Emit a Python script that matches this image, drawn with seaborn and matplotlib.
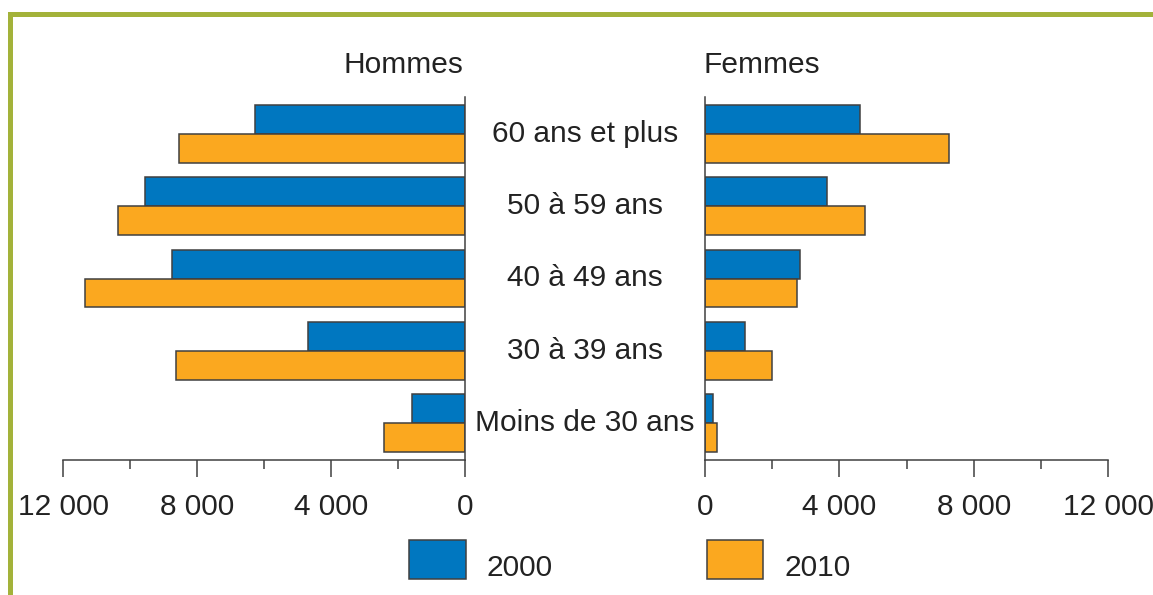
import matplotlib
matplotlib.use("Agg")
import matplotlib.pyplot as plt
import matplotlib.transforms as mtransforms
from matplotlib.patches import Rectangle
from matplotlib.ticker import FixedLocator, FuncFormatter
import seaborn as sns
import pandas as pd

# ---- data ----
categories = ["60 ans et plus", "50 à 59 ans", "40 à 49 ans", "30 à 39 ans", "Moins de 30 ans"]
years = ["2000", "2010"]
hommes_2000 = [6280, 9550, 8760, 4700, 1580]
hommes_2010 = [8550, 10350, 11350, 8630, 2420]
femmes_2000 = [4620, 3630, 2830, 1190, 230]
femmes_2010 = [7270, 4760, 2740, 2000, 370]
major_ticks = [0, 4000, 8000, 12000]
minor_ticks = [2000, 6000, 10000]

def long_form(v2000, v2010):
    rows = []
    for c, a, b in zip(categories, v2000, v2010):
        rows.append({"age": c, "annee": years[0], "valeur": a})
        rows.append({"age": c, "annee": years[1], "valeur": b})
    return pd.DataFrame(rows)

df_h = long_form(hommes_2000, hommes_2010)
df_f = long_form(femmes_2000, femmes_2010)

BLUE = "#0077C0"
ORANGE = "#FBA81F"
EDGE = "#404040"
TXT = "#222222"
GREEN = "#A3B23A"
FS = 21.5

sns.set_theme(style="white")
plt.rcParams["font.family"] = ["Liberation Sans", "DejaVu Sans"]

W, H = 1153, 595
fig = plt.figure(figsize=(W / 100, H / 100), dpi=100)
bottom = 1 - 460 / H
height = (460 - 97) / H
axL = fig.add_axes([63 / W, bottom, 402 / W, height])
axR = fig.add_axes([705 / W, bottom, 403 / W, height])

for ax, df in ((axL, df_h), (axR, df_f)):
    sns.barplot(data=df, x="valeur", y="age", hue="annee", order=categories,
                hue_order=years, palette=[BLUE, ORANGE], saturation=1,
                edgecolor=EDGE, linewidth=1.1, width=0.8, errorbar=None,
                ax=ax, orient="h")
    ax.set_ylim(4.51, -0.51)
    ax.set_xlabel("")
    ax.set_ylabel("")
    ax.set_yticks([])
    ax.xaxis.set_major_locator(FixedLocator(major_ticks))
    ax.xaxis.set_minor_locator(FixedLocator(minor_ticks))
    ax.xaxis.set_major_formatter(FuncFormatter(lambda v, p: f"{int(v):,}".replace(",", " ")))
    ax.tick_params(axis="x", which="major", length=12.5, width=1.1, color=EDGE,
                   labelsize=FS, labelcolor=TXT, pad=11.5, bottom=True, direction="out")
    ax.tick_params(axis="x", which="minor", length=6.5, width=1.1, color=EDGE,
                   bottom=True, direction="out")
    ax.spines["top"].set_visible(False)
    for s in ("bottom", "left", "right"):
        ax.spines[s].set_color(EDGE)
        ax.spines[s].set_linewidth(1.1)

handles, labels = axL.get_legend_handles_labels()
axL.get_legend().remove()
axR.get_legend().remove()

axL.set_xlim(12000, 0)
axL.spines["left"].set_visible(False)
axR.set_xlim(0, 12000)
axR.spines["right"].set_visible(False)

# category labels in the middle
trans = mtransforms.blended_transform_factory(fig.transFigure, axL.transData)
for i, c in enumerate(categories):
    fig.text(585 / W, i, c, transform=trans, ha="center", va="center",
             fontsize=FS, color=TXT)

fig.text(463 / W, 1 - 65 / H, "Hommes", ha="right", va="center", fontsize=FS, color=TXT)
fig.text(703 / W, 1 - 65 / H, "Femmes", ha="left", va="center", fontsize=FS, color=TXT)

leg = fig.legend(handles, labels, loc="upper left", bbox_to_anchor=(409 / W, 1 - 540 / H),
                 ncol=2, frameon=False, fontsize=FS, handlelength=1.9, handleheight=1.63,
                 handletextpad=0.7, columnspacing=5.15, borderpad=0, borderaxespad=0)
for t in leg.get_texts():
    t.set_color(TXT)
    t.set_y(-6.3)

# green frame
fig.add_artist(Rectangle((8 / W, 1 - 17 / H), (W - 8) / W, 5 / H,
                         transform=fig.transFigure, color=GREEN, lw=0))
fig.add_artist(Rectangle((8 / W, 0), 4.7 / W, (H - 12) / H,
                         transform=fig.transFigure, color=GREEN, lw=0))

fig.savefig("out.png", dpi=100)
